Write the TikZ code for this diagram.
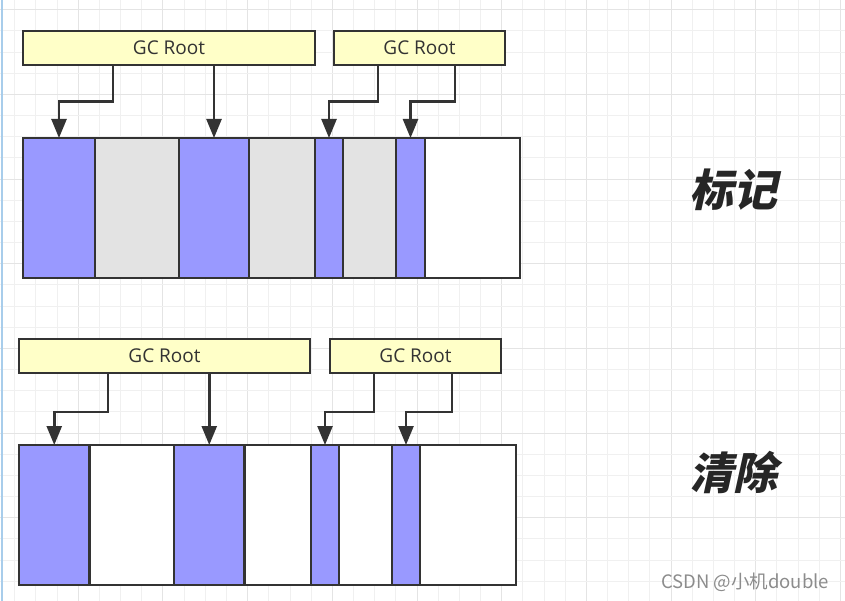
\documentclass[tikz,border=0pt]{standalone}
\usepackage{fontspec}
\setmainfont{Open Sans}
\newfontfamily\cjk{Noto Sans CJK SC}
\newfontfamily\cjkb{Noto Sans CJK SC}[FakeSlant=0.22]
\usetikzlibrary{arrows.meta}
\definecolor{markblue}{HTML}{9999FF}
\definecolor{deadgray}{HTML}{E3E3E3}
\definecolor{rootfill}{HTML}{FFFFC8}
\definecolor{lineclr}{HTML}{333333}
\definecolor{txtclr}{HTML}{333333}
\definecolor{gridminor}{HTML}{F0F0F0}
\definecolor{gridmajor}{HTML}{E4E4E4}
\definecolor{edgeblue}{HTML}{A8CDEB}
\tikzset{
  cell/.style={draw=lineclr, line width=2.5pt, minimum height=140pt, anchor=north west, inner sep=0pt, outer sep=0pt},
  root/.style={draw=lineclr, fill=rootfill, line width=2.5pt, anchor=north west, minimum height=34pt, inner sep=0pt, outer sep=0pt, font=\fontsize{19}{22}\selectfont, text=txtclr},
  arr/.style={draw=lineclr, line width=2.5pt, -{Triangle[width=15pt,length=19pt]}},
  title/.style={font=\cjkb\bfseries\fontsize{44}{50}\selectfont, text=black!85},
  wm/.style={font=\cjk\fontsize{18.5}{22}\selectfont, text=black!45}
}
\begin{document}
\begin{tikzpicture}[x=1pt,y=-1pt]
\useasboundingbox (0,0) rectangle (845,601);
\fill[white] (0,0) rectangle (845,601);
% grid
\foreach \k in {0,...,39}{
  \pgfmathtruncatemacro\m{mod(\k,4)}
  \ifnum\m=3 \draw[gridmajor, line width=0.8pt] ({14.7+21.17*\k},0) -- ++(0,601);
  \else \draw[gridminor, line width=0.8pt] ({14.7+21.17*\k},0) -- ++(0,601); \fi
}
\foreach \k in {0,...,28}{
  \pgfmathtruncatemacro\m{mod(\k,4)}
  \ifnum\m=0 \draw[gridmajor, line width=0.8pt] (0,{9.6+21.17*\k}) -- ++(845,0);
  \else \draw[gridminor, line width=0.8pt] (0,{9.6+21.17*\k}) -- ++(845,0); \fi
}
\draw[edgeblue, line width=1.5pt] (2,0) -- (2,601);

% ---------- top: marking ----------
\node[root, minimum width=292pt] (ra) at (23,31) {GC Root};
\node[root, minimum width=171pt] (rb) at (334,31) {GC Root};

\node[cell, fill=markblue, minimum width=72pt] (a1) at (23,138) {};
\node[cell, fill=deadgray, minimum width=84pt] (a2) at (95,138) {};
\node[cell, fill=markblue, minimum width=70pt] (a3) at (179,138) {};
\node[cell, fill=deadgray, minimum width=66pt] (a4) at (249,138) {};
\node[cell, fill=markblue, minimum width=28pt] (a5) at (315,138) {};
\node[cell, fill=deadgray, minimum width=53pt] (a6) at (343,138) {};
\node[cell, fill=markblue, minimum width=29pt] (a7) at (396,138) {};
\node[cell, fill=white, minimum width=95pt] (a8) at (425,138) {};

\coordinate (ta1) at (113,65);
\coordinate (ta5) at (378,65);
\coordinate (ta7) at (455,65);
\draw[arr] (ta1) -- ++(0,36.5) -| (a1.north);
\draw[arr] (a3.north |- ra.south) -- (a3.north);
\draw[arr] (ta5) -- ++(0,36.5) -| (a5.north);
\draw[arr] (ta7) -- ++(0,36.5) -| (a7.north);

\node[title] (tmark) at (733,190) {标记};

% ---------- bottom: sweep ----------
\node[root, minimum width=291pt] (rc) at (19,339) {GC Root};
\node[root, minimum width=171pt] (rd) at (330,339) {GC Root};

\node[cell, fill=markblue, minimum width=70.5pt] (b1) at (19,445) {};
\node[cell, fill=white, minimum width=84.5pt] (b2) at (89.5,445) {};
\node[cell, fill=markblue, minimum width=70.5pt] (b3) at (174,445) {};
\node[cell, fill=white, minimum width=66.5pt] (b4) at (244.5,445) {};
\node[cell, fill=markblue, minimum width=28pt] (b5) at (311,445) {};
\node[cell, fill=white, minimum width=53pt] (b6) at (339,445) {};
\node[cell, fill=markblue, minimum width=28pt] (b7) at (392,445) {};
\node[cell, fill=white, minimum width=96pt] (b8) at (420,445) {};

\coordinate (tb1) at (108,373);
\coordinate (tb5) at (374,373);
\coordinate (tb7) at (452,373);
\draw[arr] (tb1) -- ++(0,39) -| (b1.north);
\draw[arr] (b3.north |- rc.south) -- (b3.north);
\draw[arr] (tb5) -- ++(0,39) -| (b5.north);
\draw[arr] (tb7) -- ++(0,39) -| (b7.north);

\node[title] (tsweep) at (733,472) {清除};

\node[wm] (wmark) at (745,582) {CSDN @小机double};
\end{tikzpicture}
\end{document}
